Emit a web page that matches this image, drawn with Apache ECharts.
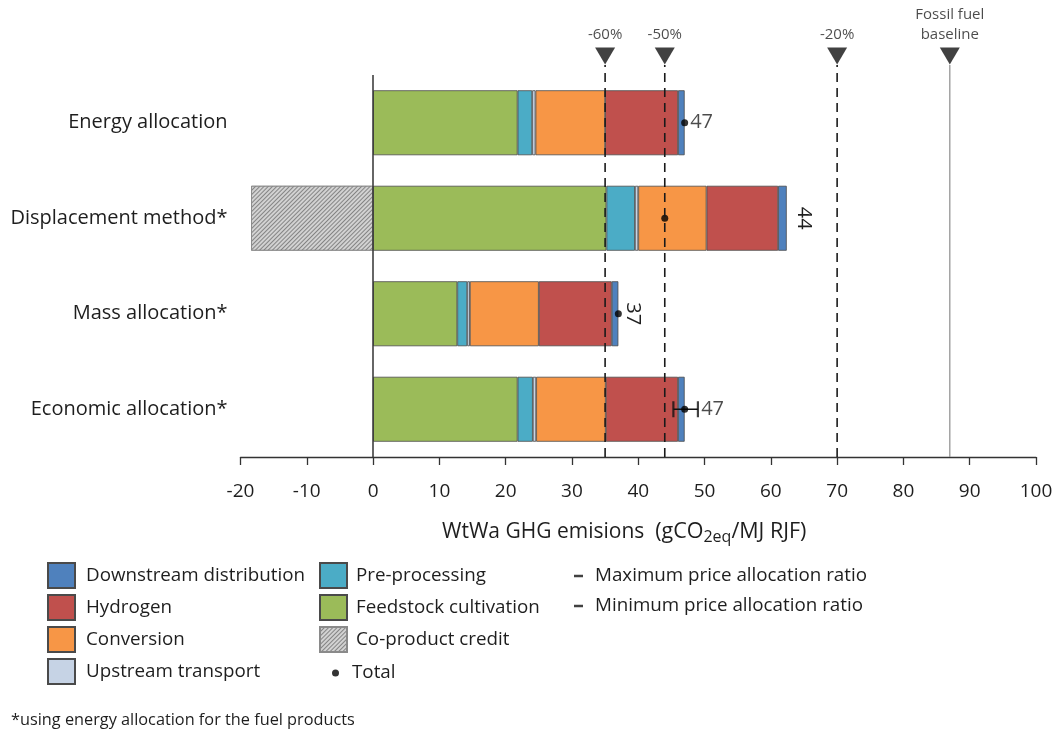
<!DOCTYPE html>
<html>
<head>
<meta charset="utf-8">
<script src="https://cdn.jsdelivr.net/npm/echarts@6/dist/echarts.min.js"></script>
<style>
  html, body { margin: 0; padding: 0; background: #fff; }
  #chart { width: 1057px; height: 732px; }
</style>
</head>
<body>
<div id="chart"></div>
<script>
// Allocation methods (top to bottom)
const categories = ['Energy allocation', 'Displacement method*', 'Mass allocation*', 'Economic allocation*'];

// Life-cycle stage contributions, gCO2eq/MJ RJF
const feedstockCultivation = [21.8, 35.2, 12.7, 21.8];
const preProcessing        = [2.2, 4.3, 1.5, 2.3];
const upstreamTransport    = [0.5, 0.5, 0.4, 0.5];
const conversion           = [10.5, 10.3, 10.4, 10.5];
const hydrogen             = [11.0, 10.8, 11.0, 10.9];
const downstreamDist       = [1.0, 1.3, 1.0, 1.0];
const coProductCredit      = [0, -18.4, 0, 0];

// Net well-to-wake totals
const totals = [47, 44, 37, 47];

// Price allocation ratio range (economic allocation only)
const minPriceRatio = [null, null, null, 45.3];
const maxPriceRatio = [null, null, null, 49.0];

// Reduction targets relative to the fossil fuel baseline
const thresholdValues = [35, 44, 70, 87];
const thresholdLabels = ['-60%', '-50%', '-20%', 'Fossil fuel\nbaseline'];

const xTicks = { min: -20, max: 100, interval: 10 };

const FONT = '"Open Sans", Lato, sans-serif';
const TXT = '#1e1e1e';
const EDGE = '#4a4a4a';

const chart = echarts.init(document.getElementById('chart'), null, { renderer: 'canvas' });

function stackSeries(name, values, color, extra) {
  return Object.assign({
    name: name,
    type: 'bar',
    stack: 'wtwa',
    xAxisIndex: 0,
    yAxisIndex: 0,
    barWidth: '68%',
    itemStyle: { color: color, borderColor: EDGE, borderWidth: 0.8 },
    emphasis: { disabled: true },
    data: values.map(v => (v === 0 ? null : v))
  }, extra || {});
}

// Rotated total labels next to the bar end for two of the rows
const rotatedLabelRows = [1, 2];
const downstreamData = downstreamDist.map((v, i) => {
  if (rotatedLabelRows.indexOf(i) >= 0) {
    return {
      value: v,
      label: {
        show: true,
        position: 'right',
        distance: i === 1 ? 17 : 14,
        rotate: -90,
        align: 'center',
        verticalAlign: 'middle',
        formatter: String(totals[i]),
        fontSize: 20,
        fontFamily: FONT,
        color: TXT
      }
    };
  }
  return v;
});

const series = [
  stackSeries('Feedstock cultivation', feedstockCultivation, '#9bbb59', {
    markLine: {
      silent: true,
      symbol: 'none',
      label: { show: false },
      lineStyle: { color: '#333', width: 1.5, type: 'solid' },
      data: [{ xAxis: 0 }]
    }
  }),
  stackSeries('Pre-processing', preProcessing, '#4bacc6'),
  stackSeries('Upstream transport', upstreamTransport, '#c6d3e5'),
  stackSeries('Conversion', conversion, '#f79646'),
  stackSeries('Hydrogen', hydrogen, '#c0504d'),
  Object.assign(stackSeries('Downstream distribution', [], '#4f81bd'), { data: downstreamData }),
  stackSeries('Co-product credit', coProductCredit, '#d4d4d4', {
    itemStyle: {
      color: '#d2d2d2',
      borderColor: '#8a8a8a',
      borderWidth: 0.8,
      decal: {
        symbol: 'rect',
        color: 'rgba(80,80,80,0.6)',
        dashArrayX: [1, 0],
        dashArrayY: [1, 1.4],
        rotation: -Math.PI / 4
      }
    }
  }),
  // Price ratio range line
  {
    name: 'priceRange',
    type: 'line',
    xAxisIndex: 0,
    yAxisIndex: 0,
    symbol: 'none',
    silent: true,
    z: 6,
    lineStyle: { color: '#111', width: 1.6 },
    data: categories.map((c, i) => minPriceRatio[i] == null ? null : [minPriceRatio[i], c])
      .filter(d => d)
      .concat(categories.map((c, i) => maxPriceRatio[i] == null ? null : [maxPriceRatio[i], c]).filter(d => d))
  },
  {
    name: 'Maximum price allocation ratio',
    type: 'scatter',
    xAxisIndex: 0,
    yAxisIndex: 0,
    symbol: 'rect',
    symbolSize: [2.2, 16],
    z: 7,
    silent: true,
    itemStyle: { color: '#111' },
    data: categories.map((c, i) => maxPriceRatio[i] == null ? null : [maxPriceRatio[i], c]).filter(d => d)
  },
  {
    name: 'Minimum price allocation ratio',
    type: 'scatter',
    xAxisIndex: 0,
    yAxisIndex: 0,
    symbol: 'rect',
    symbolSize: [2.2, 16],
    z: 7,
    silent: true,
    itemStyle: { color: '#111' },
    data: categories.map((c, i) => minPriceRatio[i] == null ? null : [minPriceRatio[i], c]).filter(d => d)
  },
  {
    name: 'Total',
    type: 'scatter',
    xAxisIndex: 0,
    yAxisIndex: 0,
    symbol: 'circle',
    symbolSize: 7,
    z: 8,
    silent: true,
    itemStyle: { color: '#000' },
    data: totals.map((t, i) => {
      const item = { value: [t, categories[i]] };
      if (rotatedLabelRows.indexOf(i) < 0) {
        item.label = {
          show: true,
          position: 'right',
          distance: maxPriceRatio[i] != null ? 13 : 2,
          formatter: String(t),
          fontSize: 20,
          fontFamily: FONT,
          color: TXT
        };
      }
      return item;
    })
  }
];

// Target lines with their markers and captions, drawn in an overlay grid
thresholdValues.forEach((v, i) => {
  const isBaseline = i === thresholdValues.length - 1;
  series.push({
    name: 'target' + i,
    type: 'line',
    xAxisIndex: 1,
    yAxisIndex: 1,
    silent: true,
    z: 9,
    symbol: 'none',
    lineStyle: isBaseline
      ? { color: '#8c8c8c', width: 1.2, type: 'solid' }
      : { color: '#1a1a1a', width: 1.6, type: [9, 6] },
    data: [[v, 0], [v, 1]]
  });
  series.push({
    name: 'targetMark' + i,
    type: 'scatter',
    xAxisIndex: 1,
    yAxisIndex: 1,
    silent: true,
    z: 9,
    symbol: 'triangle',
    symbolRotate: 180,
    symbolSize: [20, 17],
    symbolOffset: [0, -9],
    itemStyle: { color: '#111' },
    label: {
      show: true,
      position: 'top',
      distance: 3,
      formatter: thresholdLabels[i],
      fontSize: 15,
      lineHeight: 20,
      fontFamily: FONT,
      color: TXT
    },
    data: [[v, 1]]
  });
});

const legendText = { fontSize: 18.8, lineHeight: 20, fontFamily: FONT, color: TXT };

const option = {
  animation: false,
  backgroundColor: '#fff',
  title: {
    text: '*using energy allocation for the fuel products',
    left: 6,
    top: 707,
    textStyle: { fontSize: 16.3, fontWeight: 'normal', fontFamily: FONT, color: TXT }
  },
  grid: [
    { left: 240.5, right: 21, top: 75, bottom: 275, containLabel: false },
    { left: 240.5, right: 21, top: 65, bottom: 275, containLabel: false }
  ],
  xAxis: [
    {
      type: 'value',
      gridIndex: 0,
      min: xTicks.min,
      max: xTicks.max,
      interval: xTicks.interval,
      axisLine: { show: true, onZero: false, lineStyle: { color: '#333', width: 1.3 } },
      axisTick: { show: true, inside: false, length: 8, lineStyle: { color: '#333', width: 1.3 } },
      splitLine: { show: false },
      axisLabel: { fontSize: 19, fontFamily: FONT, color: TXT, margin: 25 },
      name: 'WtWa GHG emisions  {u|(gCO}{sub|2eq}{u|/MJ RJF)}',
      nameLocation: 'middle',
      nameGap: 62,
      nameTextStyle: {
        fontSize: 21, fontFamily: FONT, color: TXT,
        padding: [0, 28, 0, 0],
        rich: {
          u: { fontSize: 21.5, fontFamily: FONT, color: TXT },
          sub: { fontSize: 16, fontFamily: FONT, color: TXT, verticalAlign: 'bottom', padding: [10, 0, 0, 0] }
        }
      }
    },
    {
      type: 'value',
      gridIndex: 1,
      min: xTicks.min,
      max: xTicks.max,
      show: false
    }
  ],
  yAxis: [
    {
      type: 'category',
      gridIndex: 0,
      inverse: true,
      data: categories,
      axisLine: { show: false },
      axisTick: { show: false },
      axisLabel: { fontSize: 20, fontFamily: FONT, color: TXT, margin: 13 }
    },
    {
      type: 'value',
      gridIndex: 1,
      min: 0,
      max: 1,
      show: false
    }
  ],
  legend: [
    {
      orient: 'vertical', left: 42, top: 557,
      itemWidth: 27, itemHeight: 25, itemGap: 5,
      icon: 'rect',
      textStyle: Object.assign({ padding: [0, 0, 0, 6] }, legendText),
      selectedMode: false,
      data: ['Downstream distribution', 'Hydrogen', 'Conversion', 'Upstream transport']
    },
    {
      orient: 'vertical', left: 314, top: 557,
      itemWidth: 27, itemHeight: 25, itemGap: 5,
      icon: 'rect',
      textStyle: Object.assign({ padding: [0, 0, 0, 4] }, legendText),
      selectedMode: false,
      data: ['Pre-processing', 'Feedstock cultivation', 'Co-product credit']
    },
    {
      orient: 'vertical', left: 327, top: 658,
      itemWidth: 7, itemHeight: 7, itemGap: 7,
      textStyle: Object.assign({ padding: [0, 0, 0, 8] }, legendText),
      selectedMode: false,
      data: [{ name: 'Total', icon: 'circle' }]
    },
    {
      orient: 'vertical', left: 569, top: 561,
      itemWidth: 9, itemHeight: 2.5, itemGap: 10,
      textStyle: Object.assign({ padding: [0, 0, 0, 7] }, legendText),
      selectedMode: false,
      data: [
        { name: 'Maximum price allocation ratio', icon: 'rect' },
        { name: 'Minimum price allocation ratio', icon: 'rect' }
      ]
    }
  ],
  series: series
};

chart.setOption(option);
</script>
</body>
</html>
